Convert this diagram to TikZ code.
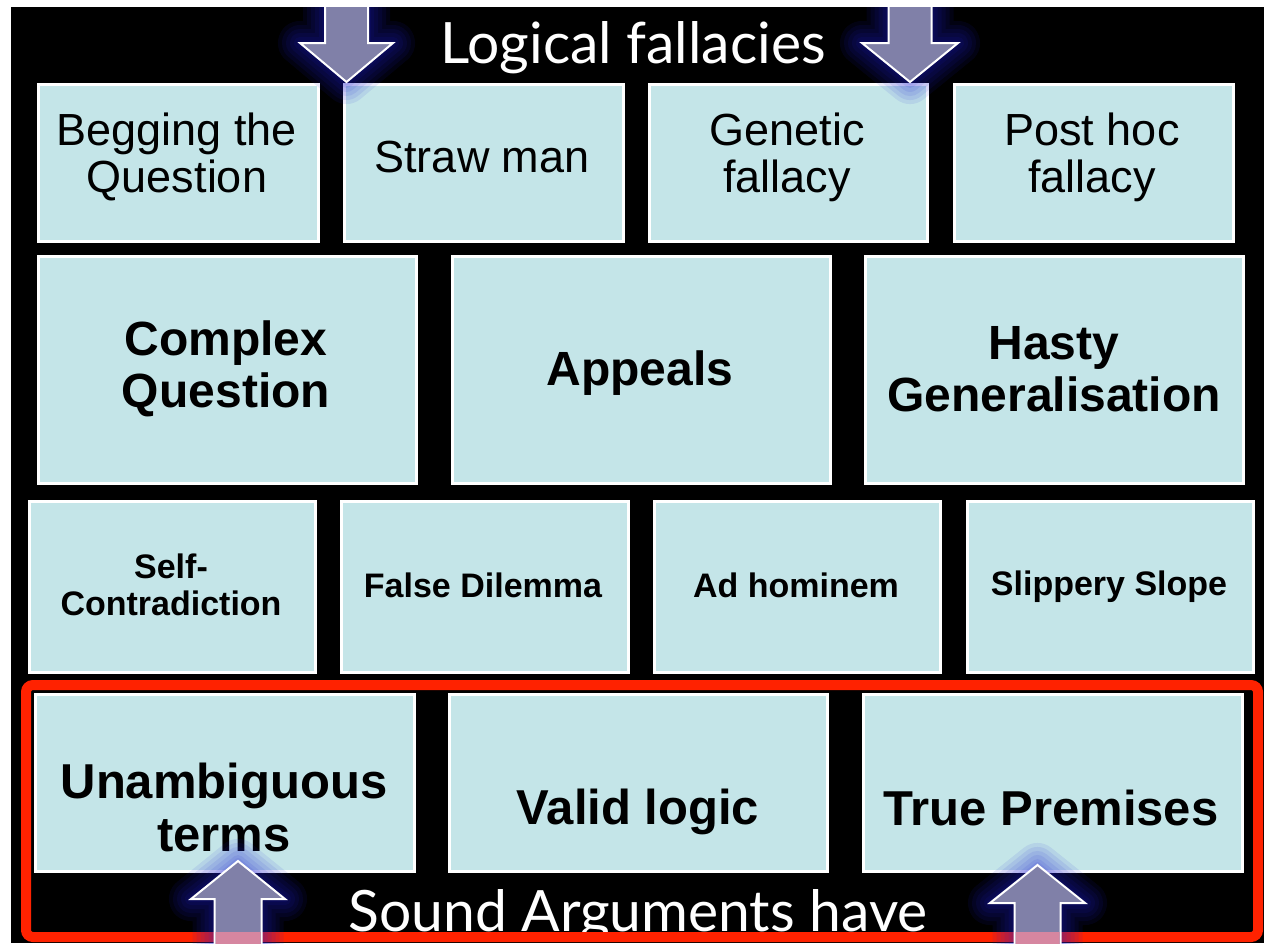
\documentclass[tikz,border=0pt]{standalone}
\usepackage{fontspec}
\setsansfont{Liberation Sans}
\newfontfamily\headfont{Lato}
\definecolor{tilefill}{RGB}{196,229,232}
\definecolor{arrowfill}{RGB}{128,128,168}
\definecolor{glowblue}{RGB}{30,30,210}
\definecolor{framered}{RGB}{255,34,0}
\definecolor{shaftpink}{RGB}{214,134,160}
\tikzset{
  tile/.style={draw=white, line width=3pt, fill=tilefill, inner sep=0pt, anchor=north west},
  lbl/.style={font=\sffamily\fontsize{#1}{47}\selectfont, align=center, text=black, inner sep=0pt},
  lblb/.style n args={2}{font=\sffamily\bfseries\fontsize{#1}{#2}\selectfont, align=center, text=black, inner sep=0pt},
  headline/.style={font=\headfont\fontsize{57}{57}\selectfont, text=white, inner sep=0pt, anchor=base},
  glowline/.style={draw=glowblue, draw opacity=0.09, line width=#1, line join=round},
  arrowbody/.style={fill=arrowfill, draw=white, line width=2pt, line join=miter},
  % block arrow: centre x, foot y, head-base y, tip y, shaft half width, head half width
  fatarrow/.style n args={6}{insert path={(#1-#5,#2) -- (#1+#5,#2) -- (#1+#5,#3) -- (#1+#6,#3) -- (#1,#4) -- (#1-#6,#3) -- (#1-#5,#3) -- cycle}},
}
\begin{document}
\begin{tikzpicture}[x=1pt,y=-1pt]
\useasboundingbox (0,0) rectangle (1264,943);
\fill[white] (0,0) rectangle (1264,943);
\fill[black] (11,7) rectangle (1264,943);

% row 1
\node[tile, minimum width=280pt, minimum height=157pt] (beg) at (37,83) {};
\node[tile, minimum width=279pt, minimum height=157pt] (straw) at (343,83) {};
\node[tile, minimum width=278pt, minimum height=157pt] (genetic) at (648,83) {};
\node[tile, minimum width=279pt, minimum height=157pt] (posthoc) at (953,83) {};
\node[lbl=45] (beg-t) at (177,157) {Begging the\\Question};
\node[lbl=45] (straw-t) at (482,157) {Straw man};
\node[lbl=45] (genetic-t) at (787,157) {Genetic\\fallacy};
\node[lbl=45] (posthoc-t) at (1092,157) {Post hoc\\fallacy};

% row 2
\node[tile, minimum width=378pt, minimum height=227pt] (complex) at (37,255) {};
\node[tile, minimum width=378pt, minimum height=227pt] (appeals) at (451,255) {};
\node[tile, minimum width=378pt, minimum height=227pt] (hasty) at (864,255) {};
\node[lblb={48}{52}] (complex-t) at (226,369) {Complex\\Question};
\node[lblb={48}{52}] (appeals-t) at (640,373) {Appeals};
\node[lblb={48}{52}] (hasty-t) at (1054,369) {Hasty\\Generalisation};

% row 3
\node[tile, minimum width=286pt, minimum height=171pt] (selfc) at (28,500) {};
\node[tile, minimum width=287pt, minimum height=171pt] (falsed) at (340,500) {};
\node[tile, minimum width=286pt, minimum height=171pt] (adhom) at (653,500) {};
\node[tile, minimum width=286pt, minimum height=171pt] (slip) at (966,500) {};
\node[lblb={34}{37}] (selfc-t) at (171,585) {Self-\\Contradiction};
\node[lblb={34}{37}] (falsed-t) at (483,585) {False Dilemma};
\node[lblb={34}{37}] (adhom-t) at (796,585) {Ad hominem};
\node[lblb={34}{37}] (slip-t) at (1109,587) {Slippery Slope};

% row 4
\node[tile, minimum width=379pt, minimum height=177pt] (unamb) at (34,693) {};
\node[tile, minimum width=378pt, minimum height=177pt] (valid) at (448,693) {};
\node[tile, minimum width=379pt, minimum height=177pt] (truep) at (862,693) {};
\node[lblb={49}{53}] (unamb-t) at (224,807) {Unambiguous\\terms};
\node[lblb={49}{53}] (valid-t) at (638,812) {Valid logic};
\node[lblb={49}{53}] (truep-t) at (1051,808) {True Premises};

% caption under the last row, partly hidden by the frame
\node[headline] (sound) at (638,931) {Sound Arguments have};

% red frame round the last row
\draw[framered, line width=10pt, rounded corners=7pt] (26,685) rectangle (1258,937);

% block arrows with their glow
\begin{scope}
  \clip (11,7) rectangle (1264,943);
  \foreach \w in {44,36,28,20,12,6} {
    \draw[glowline=\w pt, fatarrow={346.5}{0}{43}{82}{21.5}{46.5}];
    \draw[glowline=\w pt, fatarrow={910}{0}{43}{82}{21.5}{48}];
    \draw[glowline=\w pt, fatarrow={238}{950}{899}{861}{23.5}{47}];
    \draw[glowline=\w pt, fatarrow={1037.5}{950}{903}{865}{23}{47.5}];
  }
  \draw[arrowbody, fatarrow={346.5}{0}{43}{82}{21.5}{46.5}];
  \draw[arrowbody, fatarrow={910}{0}{43}{82}{21.5}{48}];
  \draw[arrowbody, fatarrow={238}{950}{899}{861}{23.5}{47}];
  \draw[arrowbody, fatarrow={1037.5}{950}{903}{865}{23}{47.5}];
  \begin{scope}
    \clip[fatarrow={238}{950}{899}{861}{22.5}{46}];
    \fill[shaftpink] (0,932) rectangle (1264,950);
  \end{scope}
  \begin{scope}
    \clip[fatarrow={1037.5}{950}{903}{865}{22}{46.5}];
    \fill[shaftpink] (0,932) rectangle (1264,950);
  \end{scope}
\end{scope}

% heading
\node[headline] (title) at (633,63) {Logical fallacies};
\end{tikzpicture}
\end{document}
